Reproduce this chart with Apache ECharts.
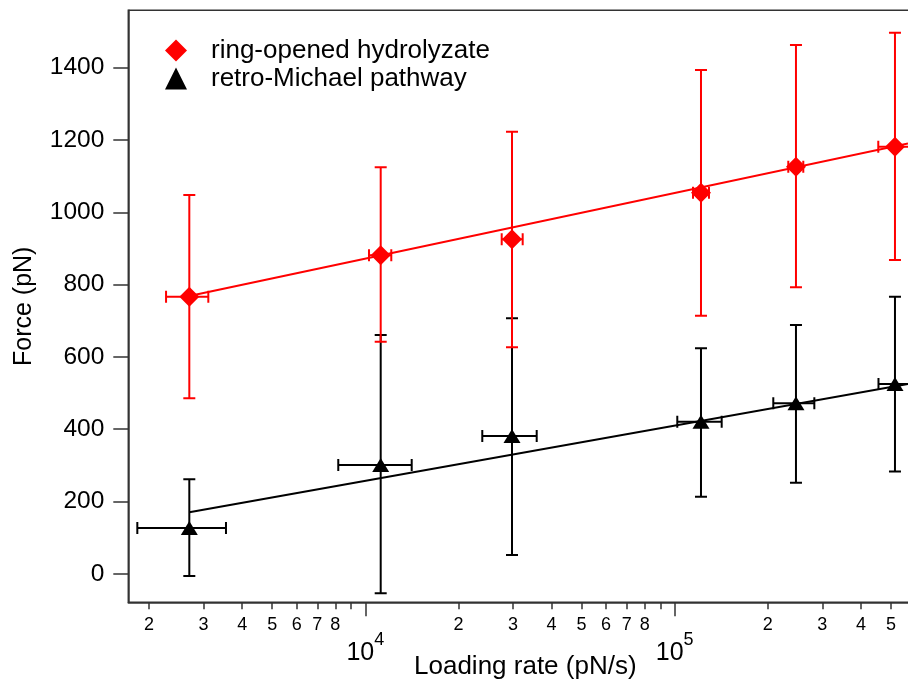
<!DOCTYPE html>
<html><head><meta charset="utf-8">
<script src="https://cdn.jsdelivr.net/npm/echarts@6/dist/echarts.min.js"></script>
<style>html,body{margin:0;padding:0;background:#fff}#c{width:908px;height:682px}</style>
</head><body><div id="c"></div>
<script>
// ---- data ----
const seriesNames = ['ring-opened hydrolyzate', 'retro-Michael pathway'];
const loadingRate = [2699, 11215, 29797, 121620, 246600, 515200];

const forceRed      = [766.5, 881.1, 925.3, 1054.2, 1126.1, 1181.5];
const forceLowRed   = [485.5, 642.0, 626.6, 714.0, 792.5, 868.0];
const forceHighRed  = [1047.9, 1124.5, 1223.0, 1393.6, 1462.8, 1496.8];
const rateLowRed    = [2270, 10279, 27598, 114600, 232900, 455000];
const rateHighRed   = [3109, 12134, 32263, 129060, 260400, 583000];

const forceBlack     = [126.7, 301.0, 381.2, 420.7, 471.6, 525.0];
const forceLowBlack  = [-6.1, -53.9, 52.0, 213.3, 252.0, 283.0];
const forceHighBlack = [261.4, 660.6, 706.8, 623.8, 688.2, 766.5];
const rateLowBlack   = [1833, 8178, 23885, 101950, 208300, 455700];
const rateHighBlack  = [3546, 14126, 35810, 141870, 282700, 583000];

const fitRed   = [[2699, 768.5], [567600, 1190.5]];
const fitBlack = [[2699, 170.1], [567600, 525.0]];

const yTicks = [0, 200, 400, 600, 800, 1000, 1200, 1400];
const minorTicks  = [2000, 3000, 4000, 5000, 6000, 7000, 8000, 9000,
                     20000, 30000, 40000, 50000, 60000, 70000, 80000, 90000,
                     200000, 300000, 400000, 500000];
const minorLabels = ['2','3','4','5','6','7','8','',
                     '2','3','4','5','6','7','8','',
                     '2','3','4','5'];
const majorTicks  = [10000, 100000];
const majorExp    = ['4', '5'];

const xMin = 1714, xMax = 612870;
const yMin = -78.8, yMax = 1558.8;

// ---- chart ----
const FONT = '"Liberation Sans", Arial, sans-serif';
const AX = '#333';

function errRows(low, high, rl, rh, f) {
  return loadingRate.map((x, i) => [x, f[i], rl[i], rh[i], low[i], high[i]]);
}
function errRender(color) {
  return function (params, api) {
    const x = api.value(0), y = api.value(1);
    const top = api.coord([x, api.value(5)]);
    const bot = api.coord([x, api.value(4)]);
    const l = api.coord([api.value(2), y]);
    const r = api.coord([api.value(3), y]);
    const h = 6;
    const st = { stroke: color, lineWidth: 2, fill: null };
    const ln = (x1, y1, x2, y2) => ({ type: 'line', shape: { x1, y1, x2, y2 }, style: st });
    return { type: 'group', children: [
      ln(top[0], top[1], bot[0], bot[1]),
      ln(top[0] - h, top[1], top[0] + h, top[1]),
      ln(bot[0] - h, bot[1], bot[0] + h, bot[1]),
      ln(l[0], l[1], r[0], r[1]),
      ln(l[0], l[1] - h, l[0], l[1] + h),
      ln(r[0], r[1] - h, r[0], r[1] + h)
    ]};
  };
}

const chart = echarts.init(document.getElementById('c'), null, { renderer: 'canvas' });
chart.setOption({
  animation: false,
  backgroundColor: '#fff',
  textStyle: { fontFamily: FONT },
  grid: { left: 128.3, top: 10.3, width: 790, bottom: 79.7, show: true, containLabel: false,
          outerBoundsMode: 'none',
          borderColor: AX, borderWidth: 1.5, backgroundColor: 'transparent' },
  legend: {
    data: seriesNames, orient: 'vertical', left: 165, top: 37.5, padding: 0,
    itemWidth: 22, itemHeight: 22, itemGap: 2,
    textStyle: { fontSize: 26, color: '#000', fontFamily: FONT, padding: [0, 0, 0, 19] }
  },
  xAxis: [{
    type: 'log', min: xMin, max: xMax, position: 'bottom',
    axisLine: { show: true, onZero: false, lineStyle: { color: AX, width: 1.5 } },
    splitLine: { show: false },
    axisTick: { show: true, length: 7, customValues: minorTicks, lineStyle: { color: AX, width: 1.5 } },
    axisLabel: { customValues: minorTicks, fontSize: 18, lineHeight: 18, margin: 14, color: '#000',
      formatter: v => { const i = minorTicks.findIndex(t => Math.abs(t - v) / t < 1e-6); return i >= 0 ? minorLabels[i] : ''; } },
    name: 'Loading rate (pN/s)', nameLocation: 'middle', nameGap: 52,
    nameTextStyle: { fontSize: 26, color: '#000', fontFamily: FONT, padding: [0, 0, 0, 4] }
  }, {
    type: 'log', min: xMin, max: xMax, position: 'bottom',
    axisLine: { show: false, onZero: false },
    splitLine: { show: false },
    axisTick: { show: true, length: 14, customValues: majorTicks, lineStyle: { color: AX, width: 1.5 } },
    axisLabel: { customValues: majorTicks, margin: 38, color: '#000',
      formatter: v => { const i = majorTicks.findIndex(t => Math.abs(t - v) / t < 1e-6); return i >= 0 ? '{b|10}{s|' + majorExp[i] + '}' : ''; },
      rich: {
        b: { fontSize: 25, lineHeight: 25, fontFamily: FONT, color: '#000' },
        s: { fontSize: 18, lineHeight: 18, fontFamily: FONT, color: '#000', padding: [0, 0, 25, 0] }
      } }
  }],
  yAxis: {
    type: 'value', min: yMin, max: yMax,
    axisLine: { show: true, onZero: false, lineStyle: { color: AX, width: 1.5 } },
    splitLine: { show: false },
    axisTick: { show: true, length: 15, customValues: yTicks, lineStyle: { color: AX, width: 1.5 } },
    axisLabel: { customValues: yTicks, fontSize: 24.5, margin: 24, color: '#000', formatter: v => String(Math.round(v)) },
    name: 'Force (pN)', nameLocation: 'middle', nameGap: 92,
    nameTextStyle: { fontSize: 25, color: '#000', fontFamily: FONT }
  },
  series: [
    { name: 'fitRed', type: 'line', data: fitRed, showSymbol: false, symbol: 'none', silent: true,
      lineStyle: { color: '#ff0000', width: 2 }, z: 3 },
    { name: 'fitBlack', type: 'line', data: fitBlack, showSymbol: false, symbol: 'none', silent: true,
      lineStyle: { color: '#000', width: 2 }, z: 3 },
    { name: 'errBlack', type: 'custom', renderItem: errRender('#000'), clip: true,
      encode: { x: 0, y: 1 }, data: errRows(forceLowBlack, forceHighBlack, rateLowBlack, rateHighBlack, forceBlack), z: 2 },
    { name: 'errRed', type: 'custom', renderItem: errRender('#ff0000'), clip: true,
      encode: { x: 0, y: 1 }, data: errRows(forceLowRed, forceHighRed, rateLowRed, rateHighRed, forceRed), z: 2 },
    { name: seriesNames[0], type: 'scatter', symbol: 'diamond', symbolSize: 20,
      itemStyle: { color: '#ff0000', opacity: 1 }, data: loadingRate.map((x, i) => [x, forceRed[i]]), z: 5 },
    { name: seriesNames[1], type: 'scatter', symbol: 'triangle', symbolSize: [17, 14],
      itemStyle: { color: '#000', opacity: 1 }, data: loadingRate.map((x, i) => [x, forceBlack[i]]), z: 5 }
  ]
});
</script></body></html>
